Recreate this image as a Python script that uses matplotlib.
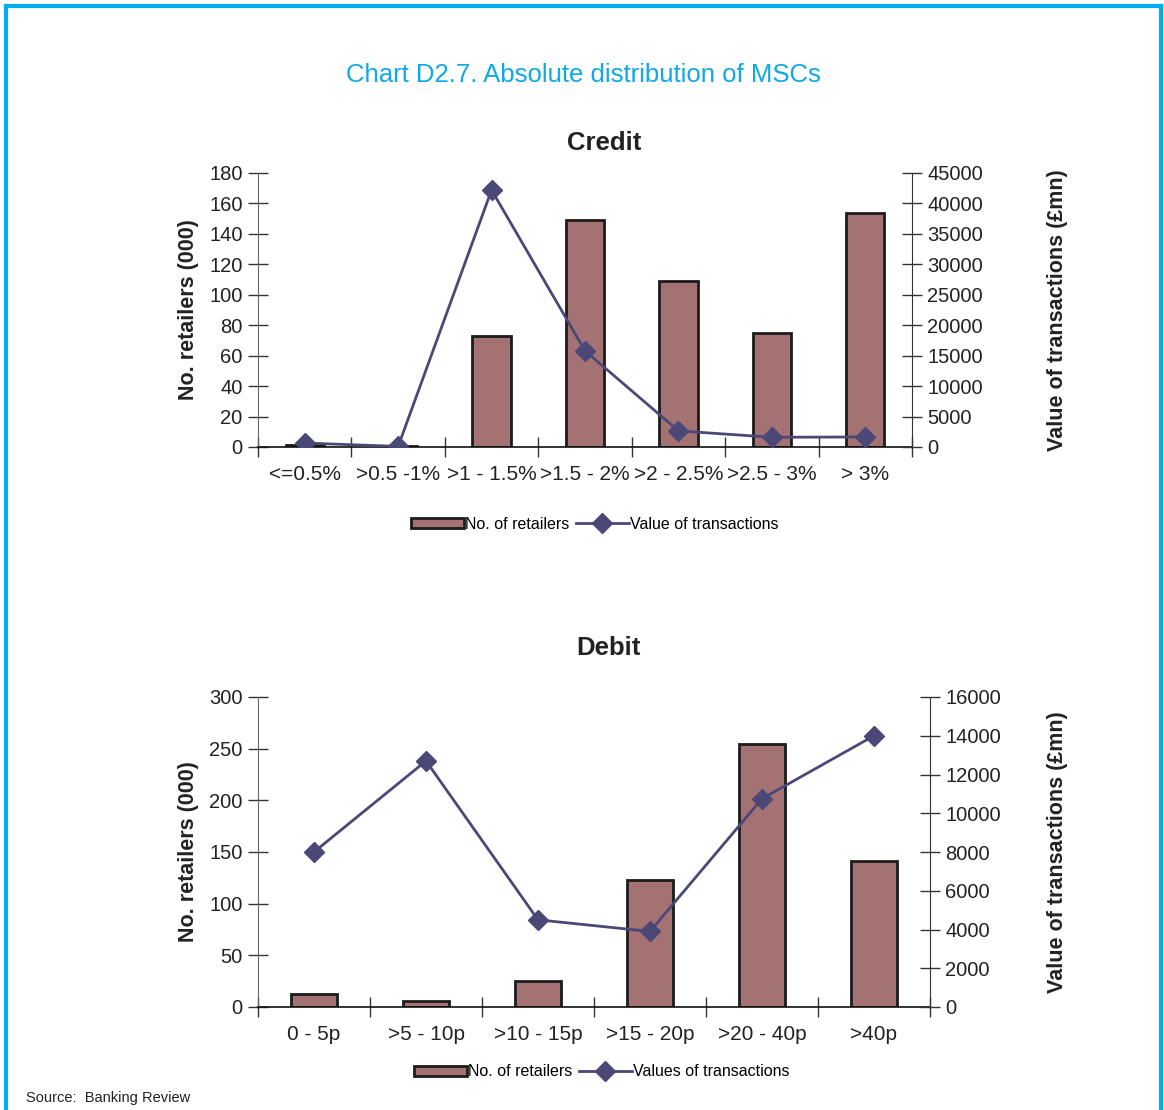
import matplotlib
matplotlib.use("Agg")
import matplotlib.pyplot as plt
from matplotlib.lines import Line2D
from matplotlib.patches import Patch
import numpy as np

plt.rcParams['font.family'] = ['Liberation Sans', 'DejaVu Sans']

# Credit card MSC bands
credit_bands = ["<=0.5%", ">0.5 -1%", ">1 - 1.5%", ">1.5 - 2%", ">2 - 2.5%", ">2.5 - 3%", "> 3%"]
credit_retailers = [1.5, 0.5, 73, 149, 109, 75, 154]          # 000s
credit_value = [650, 100, 42200, 15800, 2650, 1600, 1650]      # £mn

# Debit card MSC bands
debit_bands = ["0 - 5p", ">5 - 10p", ">10 - 15p", ">15 - 20p", ">20 - 40p", ">40p"]
debit_retailers = [13, 6, 25, 123, 255, 141]                   # 000s
debit_value = [8000, 12700, 4500, 3900, 10750, 14000]          # £mn

BAR_COLOR = "#A47272"
EDGE_COLOR = "#1c1c1c"
LINE_COLOR = "#4B4878"
TITLE_BLUE = "#0FA8E8"
TEXT = "#222222"

W, H = 1164, 1110
fig = plt.figure(figsize=(W / 100, H / 100), dpi=100)

# Blue frame on left, top and right
for xs, ys in [([0.005, 0.005], [0.0, 0.9945]), ([0.005, 0.9978], [0.9945, 0.9945]),
               ([0.9978, 0.9978], [0.0, 0.9945])]:
    fig.add_artist(Line2D(xs, ys, transform=fig.transFigure, color="#00AEEF", lw=3))

fig.text(583 / W, 1 - 75 / H, "Chart D2.7. Absolute distribution of MSCs",
         ha="center", va="center", fontsize=18.5, color=TITLE_BLUE)


def panel(rect, title, title_xy, bands, retailers, values, ylim, yticks, y2lim, y2ticks,
          legend_xy, line_label):
    ax = fig.add_axes(rect)
    n = len(bands)
    x = np.arange(n)
    width_px = rect[2] * W
    ax.bar(x, retailers, width=0.41, color=BAR_COLOR, edgecolor=EDGE_COLOR, linewidth=2, zorder=2)
    ax.set_xlim(-0.5, n - 0.5)
    ax.set_ylim(*ylim)
    ax.set_yticks(yticks)
    ax.set_xticks(np.arange(n + 1) - 0.5)
    ax.set_xticklabels([])
    ax.set_xticks(x, minor=True)
    ax.set_xticklabels(bands, minor=True)
    ax.tick_params(axis="x", which="major", direction="inout", length=14, width=1, color="#333333")
    ax.tick_params(axis="x", which="minor", length=0, pad=13, labelsize=15, labelcolor=TEXT)
    ax.tick_params(axis="y", direction="inout", length=14, width=1, color="#333333",
                   labelsize=14.5, labelcolor=TEXT, pad=4)
    for s in ["top", "right"]:
        ax.spines[s].set_visible(False)
    ax.spines["left"].set_color("#666666")
    ax.spines["bottom"].set_color("#111111")
    ax.spines["bottom"].set_linewidth(1.2)
    ax.set_ylabel("No. retailers (000)", fontsize=15.5, fontweight="bold", color=TEXT)
    ax.yaxis.set_label_coords((199 - 258) / width_px, 0.5)

    ax2 = ax.twinx()
    ax2.plot(x, values, color=LINE_COLOR, lw=2, marker="D", markersize=10, zorder=3)
    ax2.set_ylim(*y2lim)
    ax2.set_yticks(y2ticks)
    ax2.tick_params(axis="y", direction="inout", length=14, width=1, color="#333333",
                    labelsize=14.5, labelcolor=TEXT, pad=4)
    for s in ["top", "left", "bottom"]:
        ax2.spines[s].set_visible(False)
    ax2.spines["right"].set_color("#333333")
    ax2.set_ylabel("Value of transactions (£mn)", fontsize=15.5, fontweight="bold", color=TEXT)
    ax2.yaxis.set_label_coords((1047 - 258) / width_px, 0.5)

    fig.text(title_xy[0], title_xy[1], title, ha="center", va="center",
             fontsize=18.5, fontweight="bold", color=TEXT)

    handles = [Patch(facecolor=BAR_COLOR, edgecolor=EDGE_COLOR, linewidth=2),
               Line2D([], [], color=LINE_COLOR, lw=2, marker="D", markersize=10)]
    fig.legend(handles, ["No. of retailers", line_label], loc="center",
               bbox_to_anchor=legend_xy, ncol=2, frameon=False, fontsize=11.5,
               handlelength=3.3, handleheight=0.6, columnspacing=0.4, handletextpad=0.1)
    return ax, ax2


panel([258 / W, 1 - 447 / H, (912 - 258) / W, (447 - 173) / H],
      "Credit", (604 / W, 1 - 143 / H), credit_bands, credit_retailers, credit_value,
      (0, 180), np.arange(0, 181, 20), (0, 45000), np.arange(0, 45001, 5000),
      (595 / W, 1 - 524 / H), "Value of transactions")

panel([258 / W, 1 - 1007 / H, (930 - 258) / W, (1007 - 697) / H],
      "Debit", (608 / W, 1 - 648 / H), debit_bands, debit_retailers, debit_value,
      (0, 300), np.arange(0, 301, 50), (0, 16000), np.arange(0, 16001, 2000),
      (602 / W, 1 - 1072 / H), "Values of transactions")

fig.text(26 / W, 1 - 1098 / H, "Source:  Banking Review", ha="left", va="center",
         fontsize=10.5, color=TEXT)

fig.savefig("out.png", dpi=100, facecolor="white")
